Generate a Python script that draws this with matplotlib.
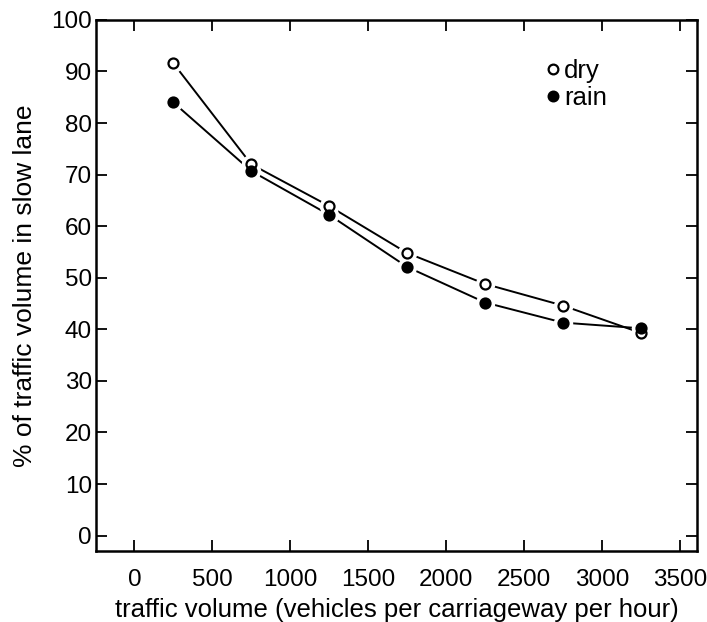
"""Slow lane share vs traffic volume, dry and rain."""
import matplotlib
matplotlib.use("Agg")
import matplotlib.pyplot as plt

volume = [250, 750, 1250, 1750, 2250, 2750, 3250]
dry = [91.6, 72.0, 63.9, 54.8, 48.8, 44.6, 39.3]
rain = [84.0, 70.7, 62.2, 52.1, 45.2, 41.3, 40.2]
xticks = [0, 500, 1000, 1500, 2000, 2500, 3000, 3500]
yticks = list(range(0, 101, 10))

plt.rcParams["font.family"] = ["Liberation Sans", "DejaVu Sans"]

fig = plt.figure(figsize=(7.07, 6.22), dpi=100)
ax = fig.add_axes([0.136, 0.114, 0.85, 0.854])

# lines first, then a white halo under each marker so the line stops short
for vals, face in [(dry, "white"), (rain, "black")]:
    ax.plot(volume, vals, "-", color="black", lw=1.4, zorder=2)
    ax.plot(volume, vals, "o", ms=13, mfc="white", mec="white", zorder=3)
    ax.plot(volume, vals, "o", ms=7.2, mfc=face, mec="black", mew=1.6, zorder=4)

# legend
h1, = ax.plot([], [], "o", ms=7, mfc="white", mec="black", mew=1.6)
h2, = ax.plot([], [], "o", ms=7, mfc="black", mec="black", mew=1.6)
ax.legend([h1, h2], ["dry", "rain"], loc="center left", bbox_to_anchor=(0.747, 0.878),
          frameon=False, handlelength=0.6, handletextpad=0.15, labelspacing=0.12,
          fontsize=18.5, borderaxespad=0, borderpad=0)

ax.set_xlim(-245, 3610)
ax.set_ylim(-3, 100)
ax.set_xticks(xticks)
ax.set_yticks(yticks)
ax.tick_params(direction="in", length=8, width=1.3, labelsize=17.5,
               top=True, right=True)
ax.tick_params(axis="x", pad=13)
ax.tick_params(axis="y", pad=3)
for s in ax.spines.values():
    s.set_linewidth(1.8)

ax.set_xlabel("traffic volume (vehicles per carriageway per hour)", fontsize=18.5)
ax.xaxis.set_label_coords(0.5, -0.088)
ax.set_ylabel("% of traffic volume in slow lane", fontsize=19, labelpad=10)

fig.savefig("out.png", dpi=100)
